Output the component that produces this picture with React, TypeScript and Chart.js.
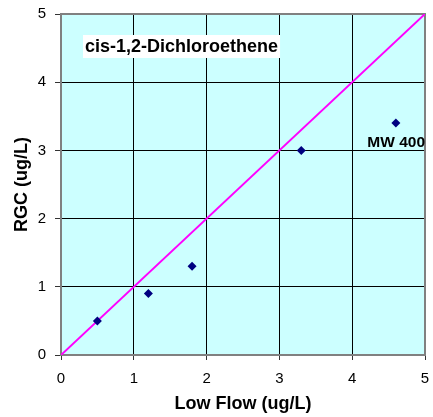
import React, { useEffect, useRef } from "react";
import { Chart, registerables } from "chart.js";

Chart.register(...registerables);

const lowFlow = [0.5, 1.2, 1.8, 3.3, 4.6];
const rgc = [0.5, 0.9, 1.3, 3.0, 3.4];
const refLineX = [0, 5];
const refLineY = [0, 5];
const axisMin = 0;
const axisMax = 5;
const axisStep = 1;
const chartTitle = "cis-1,2-Dichloroethene";
const pointLabel = "MW 400";
const pointLabelIndex = 4;
const xTitle = "Low Flow (ug/L)";
const yTitle = "RGC (ug/L)";

const FONT = "'Liberation Sans', Arial, Helvetica, sans-serif";

const decorPlugin = {
  id: "decor",
  beforeDraw(chart: any) {
    const { ctx, chartArea: a } = chart;
    ctx.save();
    ctx.fillStyle = "#CCFFFF";
    ctx.fillRect(a.left, a.top, a.right - a.left, a.bottom - a.top);
    ctx.restore();
  },
  beforeDatasetsDraw(chart: any) {
    const { ctx, chartArea: a } = chart;
    ctx.save();
    ctx.strokeStyle = "#808080";
    ctx.lineWidth = 2;
    ctx.strokeRect(a.left, a.top, a.right - a.left, a.bottom - a.top);
    ctx.restore();
  },
  afterDatasetsDraw(chart: any) {
    const { ctx, chartArea: a } = chart;
    ctx.save();
    ctx.font = `bold 18px ${FONT}`;
    const w = ctx.measureText(chartTitle).width;
    const bx = a.left + 22;
    const by = a.top + 21;
    ctx.fillStyle = "#FFFFFF";
    ctx.fillRect(bx, by, w + 4, 23);
    ctx.fillStyle = "#000000";
    ctx.textBaseline = "alphabetic";
    ctx.textAlign = "left";
    ctx.fillText(chartTitle, bx + 2, by + 17);
    const meta = chart.getDatasetMeta(0);
    const pt = meta.data[pointLabelIndex];
    if (pt) {
      ctx.font = `bold 15.5px ${FONT}`;
      ctx.textAlign = "right";
      ctx.fillText(pointLabel, a.right, pt.y + 24);
    }
    ctx.restore();
  },
};

export default function App() {
  const ref = useRef<HTMLCanvasElement | null>(null);
  useEffect(() => {
    if (!ref.current) return;
    Chart.defaults.font.family = FONT;
    const chart = new Chart(ref.current, {
      type: "scatter",
      data: {
        datasets: [
          {
            type: "scatter",
            data: lowFlow.map((x, i) => ({ x, y: rgc[i] })),
            pointStyle: "rectRot",
            pointRadius: 4.5,
            pointBorderWidth: 0,
            backgroundColor: "#000080",
            borderColor: "#000080",
          } as any,
          {
            type: "line",
            data: refLineX.map((x, i) => ({ x, y: refLineY[i] })),
            borderColor: "#FF00FF",
            borderWidth: 2,
            pointRadius: 0,
            fill: false,
            tension: 0,
          } as any,
        ],
      },
      options: {
        animation: false,
        responsive: false,
        devicePixelRatio: 1,
        layout: { padding: { top: 14, right: 8, left: 0, bottom: 0 } },
        plugins: { legend: { display: false }, tooltip: { enabled: false } },
        scales: {
          x: {
            type: "linear",
            min: axisMin,
            max: axisMax,
            ticks: { stepSize: axisStep, color: "#000", font: { size: 15 }, padding: 10 },
            grid: { color: "#000", lineWidth: 1, tickLength: 5, tickColor: "#333" },
            border: { display: false },
            title: {
              display: true,
              text: xTitle,
              color: "#000",
              font: { size: 18, weight: "bold" },
              padding: { top: 0, bottom: 2 },
            },
            afterFit(scale: any) {
              scale.height = 62;
              scale.paddingLeft = 0;
              scale.paddingRight = 0;
            },
          },
          y: {
            type: "linear",
            min: axisMin,
            max: axisMax,
            ticks: { stepSize: axisStep, color: "#000", font: { size: 15 }, padding: 9 },
            grid: { color: "#000", lineWidth: 1, tickLength: 6, tickColor: "#333" },
            border: { display: false },
            title: {
              display: true,
              text: yTitle,
              color: "#000",
              font: { size: 18, weight: "bold" },
              padding: { top: 11, bottom: 0 },
            },
            afterFit(scale: any) {
              scale.width = 61;
              scale.paddingTop = 0;
              scale.paddingBottom = 0;
            },
          },
        },
      } as any,
      plugins: [decorPlugin],
    });
    return () => chart.destroy();
  }, []);
  return (
    <div style={{ position: "fixed", left: 0, top: 0, width: 433, height: 417, background: "#fff" }}>
      <canvas ref={ref} width={433} height={417} />
    </div>
  );
}
